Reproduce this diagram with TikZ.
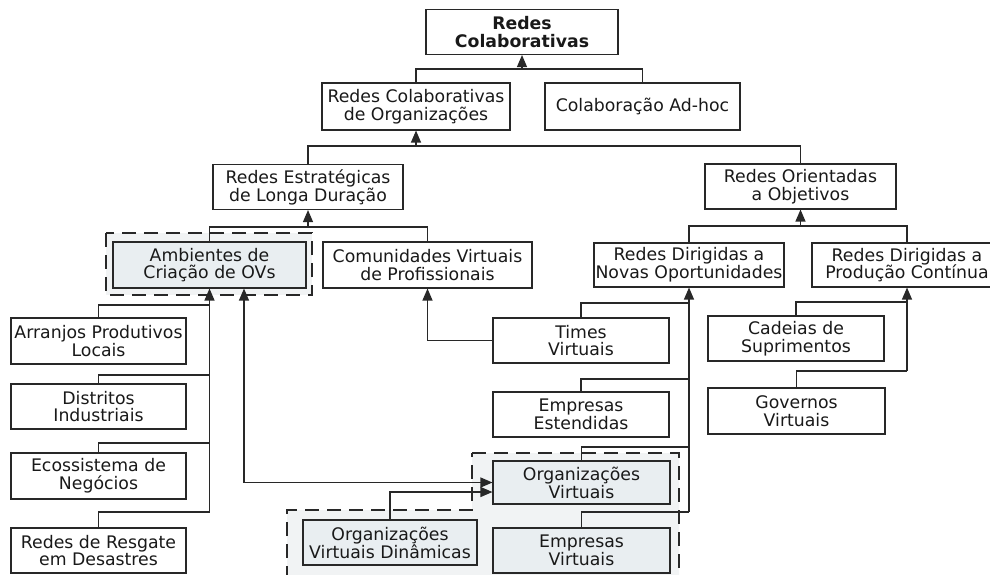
\documentclass[tikz,border=0pt]{standalone}
\usepackage{fontspec}
\setmainfont{DejaVu Sans}
\usetikzlibrary{arrows.meta}
\definecolor{linec}{RGB}{40,40,40}
\definecolor{regionfill}{RGB}{241,243,244}
\definecolor{boxfill}{RGB}{233,238,241}
\tikzset{
  box/.style={draw=linec, line width=1.1pt, fill=white, align=center, inner sep=0pt,
    text=black!90, font=\fontsize{17.3}{17.8}\selectfont},
  shaded/.style={box, fill=boxfill},
  ln/.style={draw=linec, line width=1.15pt},
  tipA/.tip={Triangle[length=12pt,width=10pt]},
  arr/.style={ln, -tipA},
  darr/.style={ln, tipA-tipA},
  region/.style={draw=linec, line width=1.1pt, dash pattern=on 14pt off 8pt, fill=regionfill},
}
\begin{document}
\begin{tikzpicture}[x=1pt,y=-1pt]
\clip (0,0) rectangle (990,574);
\fill[white] (0,0) rectangle (990,574);

% dashed regions
\path[region] (106,233) rectangle (312,295);
\path[region] (472,453) -- (679,453) -- (679,580) -- (287,580) -- (287,510) -- (472,510) -- cycle;

% level coordinates
\coordinate (y1) at (0,69);
\coordinate (y2) at (0,146);
\coordinate (y3) at (0,227);
\coordinate (y4) at (0,226);

% boxes
\node[box, minimum width=192pt, minimum height=45pt, font=\fontsize{17.3}{17.8}\selectfont\bfseries] (rc) at (522,32) {Redes\\Colaborativas};
\node[box, minimum width=188pt, minimum height=47pt] (rco) at (416,106.5) {Redes Colaborativas\\de Organizações};
\node[box, minimum width=195pt, minimum height=47pt] (cah) at (642.5,106.5) {Colaboração Ad-hoc};
\node[box, minimum width=190pt, minimum height=45pt] (reld) at (308,187) {Redes Estratégicas\\de Longa Duração};
\node[box, minimum width=191pt, minimum height=45pt] (roo) at (800.5,186.5) {Redes Orientadas\\a Objetivos};
\node[shaded, minimum width=193pt, minimum height=46pt] (amb) at (209.5,265) {Ambientes de\\Criação de OVs};
\node[box, minimum width=209pt, minimum height=46pt] (cvp) at (427.5,265) {Comunidades Virtuais\\de Profissionais};
\node[box, minimum width=190pt, minimum height=44pt] (rno) at (689,265) {Redes Dirigidas a\\Novas Oportunidades};
\node[box, minimum width=190pt, minimum height=44pt] (rpc) at (907,265) {Redes Dirigidas a\\Produção Contínua};

\node[box, minimum width=175pt, minimum height=46pt] (arr) at (98.5,341) {Arranjos Produtivos\\Locais};
\node[box, minimum width=175pt, minimum height=45pt] (dis) at (98.5,406.5) {Distritos\\Industriais};
\node[box, minimum width=175pt, minimum height=46pt] (eco) at (98.5,476) {Ecossistema de\\Negócios};
\node[box, minimum width=175pt, minimum height=45pt] (res) at (98.5,550.5) {Redes de Resgate\\em Desastres};

\node[box, minimum width=176pt, minimum height=45pt] (tv) at (581,340.5) {Times\\Virtuais};
\node[box, minimum width=176pt, minimum height=45pt] (ee) at (581,414.5) {Empresas\\Estendidas};
\node[shaded, minimum width=177pt, minimum height=43pt] (ov) at (581.5,482.5) {Organizações\\Virtuais};
\node[shaded, minimum width=177pt, minimum height=45pt] (ev) at (581.5,550.5) {Empresas\\Virtuais};
\node[shaded, minimum width=174pt, minimum height=45pt] (ovd) at (390,542.5) {Organizações\\Virtuais Dinâmicas};

\node[box, minimum width=176pt, minimum height=45pt] (cs) at (796,338.5) {Cadeias de\\Suprimentos};
\node[box, minimum width=177pt, minimum height=46pt] (gv) at (796.5,411) {Governos\\Virtuais};

% connectors: level 1
\draw[ln] (rco.north) |- (cah.north |- y1) -- (cah.north);
\draw[arr] (rc.south |- y1) -- (rc.south);
% level 2
\draw[ln] (reld.north) |- (roo.north |- y2) -- (roo.north);
\draw[arr] (rco.south |- y2) -- (rco.south);
% level 3
\draw[ln] (amb.north) |- (cvp.north |- y3) -- (cvp.north);
\draw[arr] (reld.south |- y3) -- (reld.south);
\draw[ln] (rno.north) |- (rpc.north |- y4) -- (rpc.north);
\draw[arr] (roo.south |- y4) -- (roo.south);

% Ambientes children
\coordinate (a1) at (0,305);
\coordinate (a2) at (0,375);
\coordinate (a3) at (0,443);
\coordinate (a4) at (0,512);
\draw[ln] (arr.north) |- (amb.south |- a1);
\draw[ln] (dis.north) |- (amb.south |- a2);
\draw[ln] (eco.north) |- (amb.south |- a3);
\draw[ln] (res.north) |- (amb.south |- a4);
\draw[arr] (amb.south |- a4) -- (amb.south);

% Ambientes <-> Organizacoes Virtuais
\draw[darr] ([xshift=34.5pt]amb.south) |- (ov.west);
\draw[arr] (ovd.north) |- ([yshift=-9.5pt]ov.west);

% Times -> Comunidades
\draw[arr] (tv.west) -| (cvp.south);

% Novas Oportunidades children
\coordinate (n1) at (0,303);
\coordinate (n2) at (0,379);
\coordinate (n3) at (0,447);
\coordinate (n4) at (0,512);
\draw[ln] (tv.north) |- (rno.south |- n1);
\draw[ln] (ee.north) |- (rno.south |- n2);
\draw[ln] (ov.north) |- (rno.south |- n3);
\draw[ln] (ev.north) |- (rno.south |- n4);
\draw[arr] (rno.south |- n4) -- (rno.south);

% Producao Continua children
\coordinate (p1) at (0,302);
\coordinate (p2) at (0,371);
\draw[ln] (cs.north) |- (rpc.south |- p1);
\draw[ln] (gv.north) |- (rpc.south |- p2);
\draw[arr] (rpc.south |- p2) -- (rpc.south);
\end{tikzpicture}
\end{document}
